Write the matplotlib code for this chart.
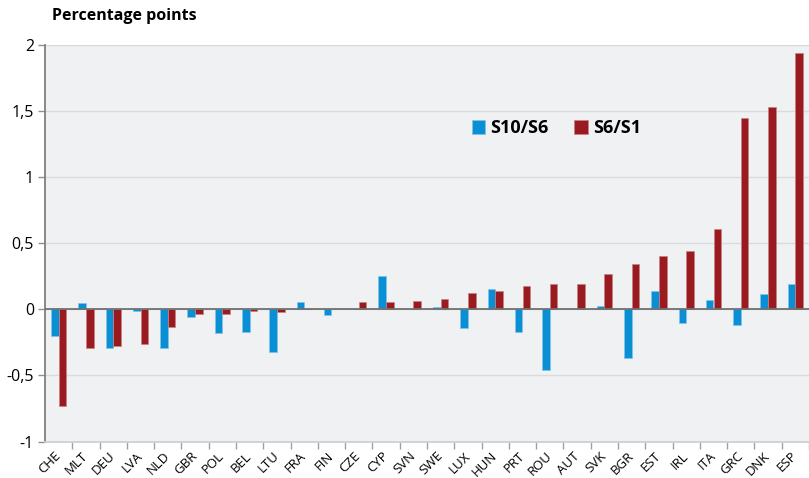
import numpy as np
import matplotlib
matplotlib.use("Agg")
import matplotlib.pyplot as plt
from matplotlib.ticker import FixedLocator, FuncFormatter

countries = ["CHE", "MLT", "DEU", "LVA", "NLD", "GBR", "POL", "BEL", "LTU", "FRA",
             "FIN", "CZE", "CYP", "SVN", "SWE", "LUX", "HUN", "PRT", "ROU", "AUT",
             "SVK", "BGR", "EST", "IRL", "ITA", "GRC", "DNK", "ESP"]
s10_s6 = [-0.20, 0.045, -0.29, -0.015, -0.29, -0.06, -0.18, -0.17, -0.32, 0.053,
          -0.04, 0.0, 0.25, 0.0, 0.015, -0.145, 0.155, -0.17, -0.46, 0.0,
          0.025, -0.37, 0.14, -0.10, 0.07, -0.12, 0.115, 0.195]
s6_s1 = [-0.735, -0.295, -0.28, -0.26, -0.13, -0.033, -0.033, -0.015, -0.018, 0.0,
         0.0, 0.053, 0.053, 0.06, 0.08, 0.12, 0.135, 0.18, 0.19, 0.19,
         0.27, 0.34, 0.40, 0.44, 0.61, 1.45, 1.53, 1.94]
y_ticks = [-1, -0.5, 0, 0.5, 1, 1.5, 2]

blue = "#0a8fd5"
red = "#991b20"
bg = "#f0f1f3"

plt.rcParams['font.family'] = ['Open Sans', 'DejaVu Sans']

fig = plt.figure(figsize=(8.09, 4.78), dpi=100)
ax = fig.add_axes([45 / 809, 36.5 / 478, 764 / 809, 396.5 / 478])
ax.set_facecolor(bg)

x = np.arange(len(countries))
w = 0.28
ax.bar(x - w / 2, s10_s6, w, color=blue, edgecolor="#7cc4ec", linewidth=0.5, label="S10/S6", zorder=3)
ax.bar(x + w / 2, s6_s1, w, color=red, edgecolor="#c98286", linewidth=0.5, label="S6/S1", zorder=3)

ax.set_xlim(-0.5, 27.38)
ax.set_ylim(-1, 2)

ax.yaxis.set_major_locator(FixedLocator(y_ticks))
ax.yaxis.set_major_formatter(FuncFormatter(lambda v, p: ("%g" % v).replace(".", ",")))
ax.grid(axis="y", color="#dadbdd", linewidth=1, zorder=1)
ax.axhline(0, color="#707070", linewidth=1.3, zorder=4)

ax.set_xticks(x)
ax.set_xticklabels(countries, rotation=45, ha="right", va="center", rotation_mode="anchor", fontsize=9.5)
ax.set_xticks(np.arange(len(countries)) + 0.5, minor=True)
ax.tick_params(axis="x", which="major", length=0, pad=9)
ax.tick_params(axis="x", which="minor", length=5, color="#a0a0a0", width=1)
ax.tick_params(axis="y", length=5, color="#909090", width=1, labelsize=11.5, pad=3)

for s in ["top", "right"]:
    ax.spines[s].set_visible(False)
ax.spines["left"].set_color("#808080")
ax.spines["left"].set_linewidth(1.3)
ax.spines["bottom"].set_color("#d0d0d0")
ax.spines["bottom"].set_linewidth(1.3)

fig.text(52 / 809, 1 - 16 / 478, "Percentage points", fontsize=11.5, fontweight="bold", va="center", ha="left")

leg = ax.legend(loc="center left", bbox_to_anchor=(0.537, 0.79), ncol=2, frameon=False,
                handlelength=0.75, handleheight=0.75, handletextpad=0.3, columnspacing=1.4,
                prop={"size": 13, "weight": "bold"})

fig.savefig("out.png", dpi=100)
